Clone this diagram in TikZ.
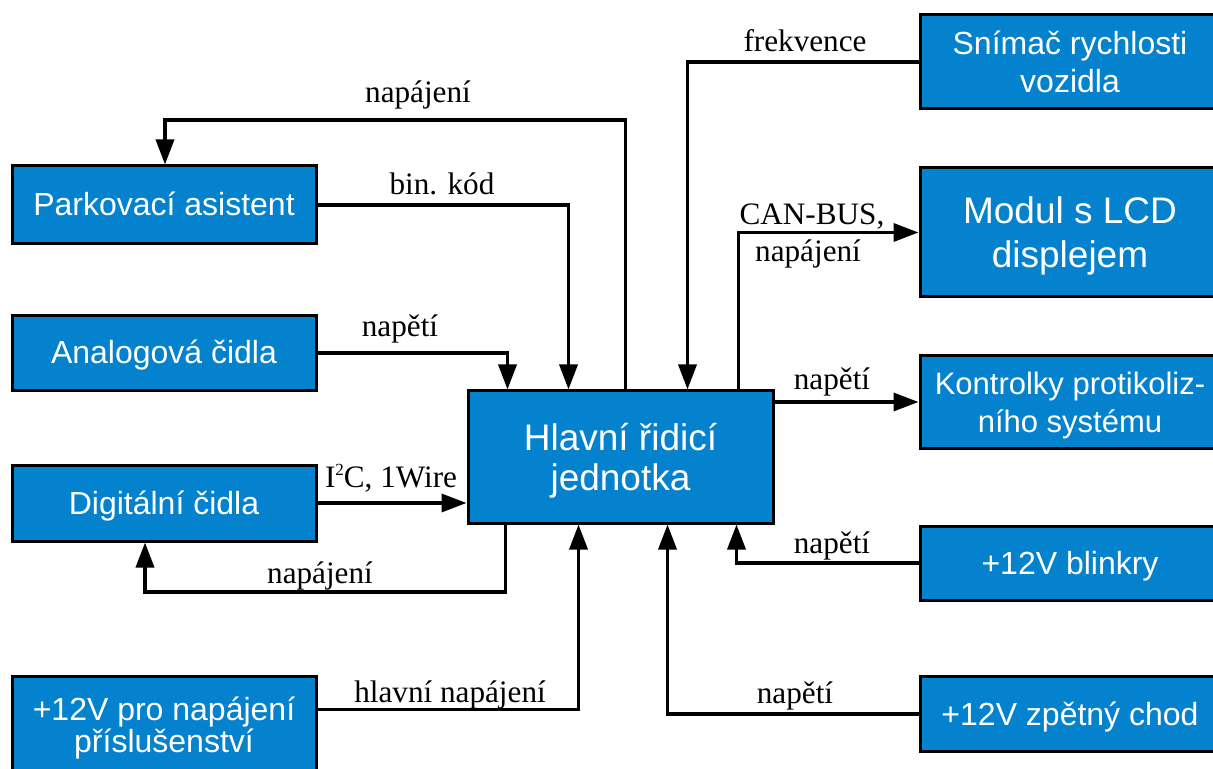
\documentclass[tikz,border=0pt]{standalone}
\usepackage{fontspec}
\setmainfont{Liberation Serif}
\newfontfamily\blockfont{Liberation Sans}
\usepackage{tikz}
\usetikzlibrary{arrows.meta,calc,positioning}

\definecolor{blockblue}{RGB}{4,130,206}

\begin{document}
\begin{tikzpicture}[x=0.5pt, y=-0.5pt,
		block/.style={
			draw=black, line width=1.5pt, fill=blockblue, text=white,
			align=center, inner sep=0pt,
			font=\blockfont\fontsize{16}{19}\selectfont
		},
		oneline/.style={text height=1.1em, text depth=0pt},
		leftblock/.style={block, minimum width=152pt},
		rightblock/.style={block, minimum width=150pt},
		conn/.style={line width=1.75pt},
		arr/.style={conn, -{Triangle[length=12.5pt, width=9pt]}},
		lbl/.style={anchor=base, inner sep=0pt, font=\fontsize{15.6}{18}\selectfont}
	]
	\useasboundingbox (0,0) rectangle (1213,769);
	\clip (0,0) rectangle (1213,769);
	
	\node (main) [block, minimum width=152.5pt, minimum height=66pt, text depth=0pt,
		font=\blockfont\fontsize{18.5}{20}\selectfont] at (620.5,457) {Hlavní řidicí\\jednotka};
	%
	\node (park) [leftblock, oneline, minimum height=39pt] at (164,205) {Parkovací asistent};
	\node (analog) [leftblock, oneline, minimum height=37.5pt] at (164,353) {Analogová čidla};
	\node (digital) [leftblock, oneline, minimum height=38pt] at (164,503) {Digitální čidla};
	\node (acc) [leftblock, minimum height=52pt, font=\blockfont\fontsize{16}{16}\selectfont]
		at (164,728) {+12V pro napájení\\příslušenství};
	%
	\node (speed) [rightblock, minimum height=47pt, text depth=-1.5pt] at (1070,62) {Snímač rychlosti\\vozidla};
	\node (lcd) [rightblock, minimum height=64.5pt, text depth=0pt,
		font=\blockfont\fontsize{18.5}{22}\selectfont] at (1070,232.5) {Modul s LCD\\displejem};
	\node (warn) [rightblock, minimum height=46.5pt, text depth=0pt,
		font=\blockfont\fontsize{15.5}{19}\selectfont] at (1070,402) {Kontrolky protikoliz-\\ního systému};
	\node (blink) [rightblock, oneline, minimum height=37pt] at (1070,563) {+12V blinkry};
	\node (reverse) [rightblock, oneline, minimum height=37.5pt] at (1070,714) {+12V zpětný chod};
	
	% body na hlavni jednotce
	\coordinate (in-anal) at ($(main.north west) + (41,0)$);
	\coordinate (in-bin) at ($(main.north west) + (102,0)$);
	\coordinate (out-pwr) at ($(main.north west) + (159,0)$);
	\coordinate (in-freq) at ($(main.north west) + (221,0)$);
	\coordinate (out-can) at ($(main.north west) + (272,0)$);
	%
	\coordinate (out-dig) at ($(main.south west) + (39,0)$);
	\coordinate (in-main) at ($(main.south west) + (112,0)$);
	\coordinate (in-rev) at ($(main.south west) + (201,0)$);
	\coordinate (in-blink) at ($(main.south west) + (270,0)$);
	%
	\coordinate (c-pwr) at (165,120);
	\coordinate (c-dig) at (145,592);
	\coordinate (c-acc) at ($(acc.north east) + (0,35)$);
	
	\draw[arr] (out-pwr) |- (c-pwr) -- (c-pwr |- park.north);
	\draw[arr] (park.east) -| (in-bin);
	\draw[arr] (analog.east) -| (in-anal);
	\draw[arr] (digital.east) -- (digital.east -| main.west);
	\draw[arr] (out-dig) |- (c-dig) -- (c-dig |- digital.south);
	\draw[arr] (c-acc) -| (in-main);
	%
	\draw[arr] (speed.west) -| (in-freq);
	\draw[arr] (out-can) |- (lcd.west);
	\draw[arr] (main.east |- warn.west) -- (warn.west);
	\draw[arr] (blink.west) -| (in-blink);
	\draw[arr] (reverse.west) -| (in-rev);
	
	\node (l-pwr) [lbl] at (418,103) {napájení};
	\node (l-bin) [lbl] at (442,195) {bin. kód};
	\node (l-anal) [lbl] at (400,337) {napětí};
	\node (l-i2c) [lbl] at (391,487) {I\raisebox{0.38em}{\fontsize{8.5}{8.5}\selectfont 2}C, 1Wire};
	\node (l-dig) [lbl] at (320,583) {napájení};
	\node (l-main) [lbl] at (450,702) {hlavní napájení};
	%
	\node (l-freq) [lbl] at (805,52) {frekvence};
	\node (l-can) [lbl] at (812,225) {CAN-BUS,};
	\node (l-can2) [lbl] at (808,262) {napájení};
	\node (l-warn) [lbl] at (832,390) {napětí};
	\node (l-blink) [lbl] at (832,553) {napětí};
	\node (l-rev) [lbl] at (795,703) {napětí};
\end{tikzpicture}
\end{document}
